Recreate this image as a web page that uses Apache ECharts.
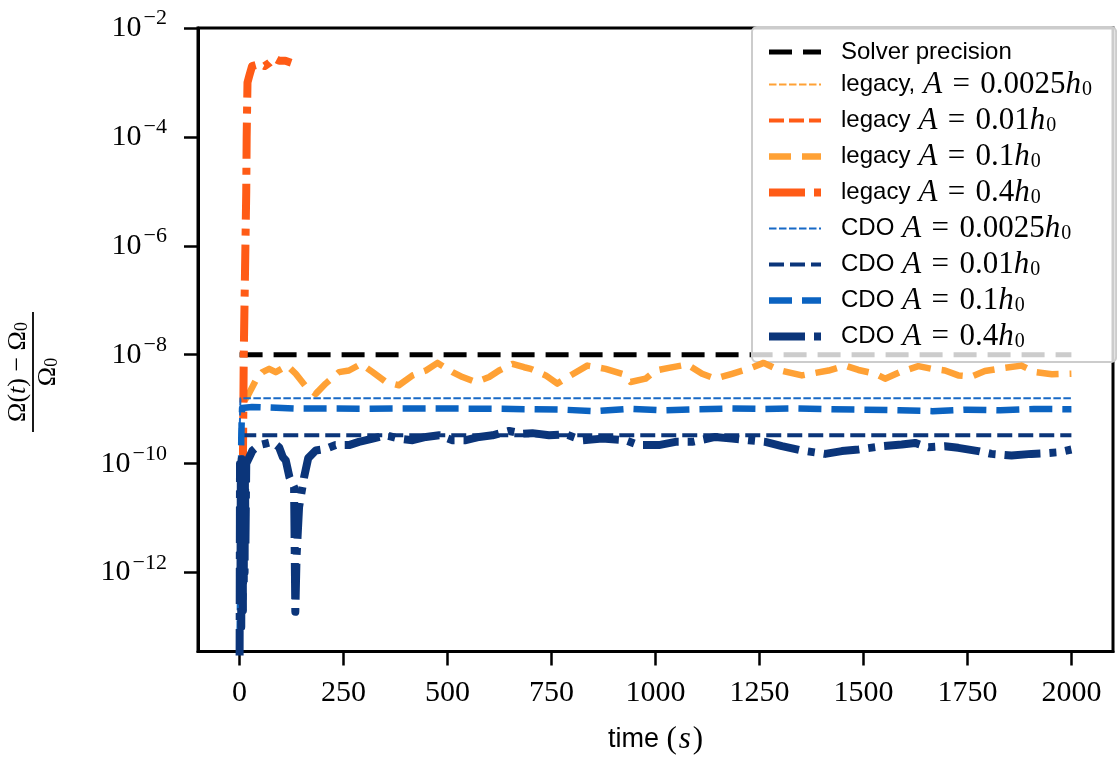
<!DOCTYPE html>
<html>
<head>
<meta charset="utf-8">
<script src="https://cdn.jsdelivr.net/npm/echarts@6.0.0/dist/echarts.min.js"></script>
<style>
html,body{margin:0;padding:0;background:#ffffff;}
#chart{width:1117px;height:760px;}
</style>
</head>
<body>
<div id="chart"></div>
<script>
// ---------- data ----------
const xTicks = [0, 250, 500, 750, 1000, 1250, 1500, 1750, 2000];
const yTicks = [1e-12, 1e-10, 1e-8, 1e-6, 1e-4, 1e-2];

const seriesNames = [
  'Solver precision',
  'legacy, A = 0.0025h0',
  'legacy A = 0.01h0',
  'legacy A = 0.1h0',
  'legacy A = 0.4h0',
  'CDO A = 0.0025h0',
  'CDO A = 0.01h0',
  'CDO A = 0.1h0',
  'CDO A = 0.4h0'
];

const solverPrecision = [[0, 1e-8], [2000, 1e-8]];

const legacy0025 = [[1, 5e-13], [3, 5e-12]];

const legacy001 = [[2, 1e-11], [4, 8e-11]];

const legacy01 = [[12,1.45e-9],[20,1.78e-9],[39,3.39e-9],[55,4.79e-9],[71,5.5e-9],[87,4.79e-9],[115,6.31e-9],[135,4.47e-9],[160,2.57e-9],[183,1.91e-9],[207,2.95e-9],[239,4.79e-9],[263,5.13e-9],[292,6.76e-9],[320,4.79e-9],[352,3.16e-9],[383,2.75e-9],[416,4.17e-9],[448,5.13e-9],[476,7.08e-9],[512,4.79e-9],[536,3.89e-9],[568,3.16e-9],[600,3.89e-9],[624,5.13e-9],[656,6.76e-9],[684,5.89e-9],[700,5.5e-9],[736,4.17e-9],[764,2.95e-9],[796,4.17e-9],[836,6.31e-9],[880,5.5e-9],[920,4.47e-9],[940,3.16e-9],[976,3.63e-9],[1000,5.13e-9],[1032,5.75e-9],[1076,6.61e-9],[1112,4.47e-9],[1144,3.63e-9],[1184,4.47e-9],[1224,5.5e-9],[1260,7.08e-9],[1296,5.25e-9],[1352,4.17e-9],[1416,5.13e-9],[1456,6.31e-9],[1488,5.25e-9],[1528,4.47e-9],[1552,3.63e-9],[1588,4.79e-9],[1632,6.17e-9],[1664,5.5e-9],[1696,5.13e-9],[1728,4.17e-9],[1760,3.98e-9],[1792,5.01e-9],[1840,5.75e-9],[1880,6.31e-9],[1913,4.79e-9],[1953,4.37e-9],[2000,4.47e-9]];

const legacy04 = [[8,1e-10],[9,1e-9],[10,1e-8],[12,1e-7],[14,1e-6],[16,1e-5],[17,1e-4],[19,1e-3],[23,1.3e-3],[30,2e-3],[40,2.1e-3],[50,2.2e-3],[60,2.0e-3],[72,2.3e-3],[83,2.8e-3],[95,2.5e-3],[110,2.5e-3],[124,2.3e-3]];

const cdo0025 = [[0,3.3e-10],[2,1.58e-9],[2000,1.58e-9]];

const cdo001 = [[4,3.31e-10],[2000,3.31e-10]];

const cdo01 = [[0,5e-14],[2,2e-12],[4,3e-10],[6,1.05e-9],[30,1.1e-9],[130,1.03e-9],[300,1.02e-9],[450,1.03e-9],[600,1.02e-9],[693,1.0e-9],[777,0.98e-9],[856,0.92e-9],[938,1.02e-9],[1017,0.955e-9],[1100,1.0e-9],[1182,1.03e-9],[1262,1.01e-9],[1342,1.03e-9],[1424,1.0e-9],[1504,0.98e-9],[1586,0.955e-9],[1666,0.92e-9],[1749,0.98e-9],[1829,0.955e-9],[1910,1.01e-9],[1985,1.0e-9],[2000,1.0e-9]];

const cdo04 = [[0,2e-14],[1,1e-10],[2,3e-13],[3,8e-11],[4,1e-13],[5,1.2e-10],[6,5e-13],[7,9e-11],[8,2e-13],[9,1e-10],[10,6e-13],[11,1.1e-10],[12,1e-12],[13,1e-10],[14,3e-12],[16,1e-10],[19,1e-10],[25,1.4e-10],[31,1.74e-10],[47,2.19e-10],[63,2.34e-10],[79,2.51e-10],[95,2.0e-10],[104,1.32e-10],[111,1.15e-10],[120,5.6e-11],[131,3.7e-11],[134,1.9e-13],[137,2e-12],[143,1.6e-11],[155,5.6e-11],[165,1.26e-10],[183,1.74e-10],[207,1.86e-10],[231,2.19e-10],[263,2.19e-10],[287,2.51e-10],[320,2.88e-10],[352,3.31e-10],[383,2.88e-10],[416,2.69e-10],[448,3.09e-10],[480,3.31e-10],[512,2.69e-10],[544,2.69e-10],[576,3.09e-10],[608,3.31e-10],[648,3.98e-10],[680,3.55e-10],[704,3.63e-10],[744,3.31e-10],[784,3.47e-10],[824,2.69e-10],[872,2.88e-10],[928,2.69e-10],[960,2.19e-10],[1008,2.19e-10],[1048,2.51e-10],[1088,2.51e-10],[1144,3.09e-10],[1184,2.88e-10],[1224,2.69e-10],[1264,2.51e-10],[1304,2.09e-10],[1352,1.74e-10],[1408,1.51e-10],[1448,1.70e-10],[1488,1.82e-10],[1544,2.09e-10],[1592,2.24e-10],[1624,2.40e-10],[1656,2.0e-10],[1696,2.09e-10],[1728,1.95e-10],[1776,1.70e-10],[1808,1.51e-10],[1856,1.41e-10],[1904,1.51e-10],[1936,1.55e-10],[1969,1.62e-10],[2000,1.82e-10]];

// ---------- styling ----------
const C_BLACK = '#000000';
const C_LORANGE = '#ffa135';
const C_RORANGE = '#ff5b16';
const C_BLUE = '#0b63c1';
const C_TBLUE = '#1769c6';
const C_NAVY = '#0b357a';

const SERIF = '"Liberation Serif", "DejaVu Serif", serif';
const SANS = '"Liberation Sans", "DejaVu Sans", sans-serif';

function mk(name, data, color, width, dash, z) {
  return {
    name: name, type: 'line', data: data, symbol: 'none', showSymbol: false,
    animation: false, z: z, clip: true,
    lineStyle: { color: color, width: width, type: dash, cap: 'butt', join: 'round' },
    itemStyle: { color: color },
    emphasis: { disabled: true }
  };
}

const legendRich = {
  sf: { fontFamily: SANS, fontSize: 24, lineHeight: 30, color: '#000', padding: [0, 0, 0, 15] },
  ia: { fontFamily: SERIF, fontStyle: 'italic', fontSize: 31, lineHeight: 30, color: '#000', padding: [0, 0, 0, 8] },
  it: { fontFamily: SERIF, fontStyle: 'italic', fontSize: 31, lineHeight: 30, color: '#000' },
  rm: { fontFamily: SERIF, fontSize: 31, lineHeight: 30, color: '#000' },
  sub: { fontFamily: SERIF, fontSize: 20, lineHeight: 20, padding: [11, 0, 0, 1], color: '#000' }
};
const EQ = '\u2004=\u2004';
const legendLabels = {
  'Solver precision': '{sf|Solver precision}',
  'legacy, A = 0.0025h0': '{sf|legacy,}{ia|A}{rm|' + EQ + '0.0025}{it|h}{sub|0}',
  'legacy A = 0.01h0': '{sf|legacy}{ia|A}{rm|' + EQ + '0.01}{it|h}{sub|0}',
  'legacy A = 0.1h0': '{sf|legacy}{ia|A}{rm|' + EQ + '0.1}{it|h}{sub|0}',
  'legacy A = 0.4h0': '{sf|legacy}{ia|A}{rm|' + EQ + '0.4}{it|h}{sub|0}',
  'CDO A = 0.0025h0': '{sf|CDO}{ia|A}{rm|' + EQ + '0.0025}{it|h}{sub|0}',
  'CDO A = 0.01h0': '{sf|CDO}{ia|A}{rm|' + EQ + '0.01}{it|h}{sub|0}',
  'CDO A = 0.1h0': '{sf|CDO}{ia|A}{rm|' + EQ + '0.1}{it|h}{sub|0}',
  'CDO A = 0.4h0': '{sf|CDO}{ia|A}{rm|' + EQ + '0.4}{it|h}{sub|0}'
};

const chart = echarts.init(document.getElementById('chart'), null, { renderer: 'canvas' });

const option = {
  backgroundColor: '#ffffff',
  animation: false,
  grid: {
    left: 198, right: 4, top: 28, bottom: 108,
    show: true, borderColor: '#000', borderWidth: 3, backgroundColor: 'transparent'
  },
  xAxis: {
    type: 'value', min: -100, max: 2100,
    splitLine: { show: false },
    axisLine: { show: true, onZero: false, lineStyle: { color: '#000', width: 3 } },
    axisTick: { show: true, customValues: xTicks, length: 14, lineStyle: { color: '#000', width: 2.5 } },
    axisLabel: {
      customValues: xTicks, margin: 27, color: '#000',
      fontFamily: SERIF, fontSize: 30, lineHeight: 30,
      formatter: function (v) { return String(v); }
    },
    name: '{sf|time }{rm|(}{it|s}{rm|)}',
    nameLocation: 'middle', nameGap: 72,
    nameTextStyle: {
      rich: {
        sf: { fontFamily: SANS, fontSize: 27, lineHeight: 32, color: '#000' },
        rm: { fontFamily: SERIF, fontSize: 31, lineHeight: 32, color: '#000' },
        it: { fontFamily: SERIF, fontStyle: 'italic', fontSize: 31, lineHeight: 32, color: '#000', padding: [0, 2, 0, 2] }
      }
    }
  },
  yAxis: {
    type: 'log', logBase: 10,
    min: Math.pow(10, -13.45), max: 1e-2,
    splitLine: { show: false },
    minorTick: { show: false },
    axisLine: { show: true, onZero: false, lineStyle: { color: '#000', width: 3 } },
    axisTick: { show: true, customValues: yTicks, length: 14, lineStyle: { color: '#000', width: 2.5 } },
    axisLabel: {
      customValues: yTicks, margin: 31,
      formatter: function (v) {
        const e = Math.round(Math.log10(v));
        return '{b|10}{s|\u2212' + (-e) + '}';
      },
      rich: {
        b: { fontFamily: SERIF, fontSize: 30, lineHeight: 30, color: '#000' },
        s: { fontFamily: SERIF, fontSize: 22, lineHeight: 22, padding: [0, 0, 19, 2], color: '#000' }
      }
    }
  },
  legend: {
    orient: 'vertical', left: 752, top: 27,
    itemWidth: 52, itemHeight: 14, itemGap: 5,
    padding: [13, 24, 10, 13],
    backgroundColor: 'rgba(255,255,255,0.8)',
    borderColor: '#cccccc', borderWidth: 2, borderRadius: 5,
    selectedMode: false,
    lineStyle: { width: 'inherit' },
    itemStyle: { color: 'rgba(0,0,0,0)', borderWidth: 0, opacity: 0 },
    data: seriesNames,
    formatter: function (name) { return legendLabels[name]; },
    textStyle: { rich: legendRich }
  },
  graphic: [{
    type: 'group', x: 33, y: 372, rotation: Math.PI / 2, silent: true,
    children: [
      {
        type: 'text', x: 0, y: -15,
        style: {
          text: '{r|\u03A9(}{i|t}{r|) \u2212 \u03A9}{s|0}',
          textAlign: 'center', textVerticalAlign: 'middle', align: 'center', verticalAlign: 'middle',
          rich: {
            r: { fontFamily: SERIF, fontSize: 26, lineHeight: 26, fill: '#000', color: '#000' },
            i: { fontFamily: SERIF, fontStyle: 'italic', fontSize: 26, lineHeight: 26, fill: '#000', color: '#000' },
            s: { fontFamily: SERIF, fontSize: 18, lineHeight: 18, padding: [9, 0, 0, 0], fill: '#000', color: '#000' }
          }
        }
      },
      {
        type: 'line', shape: { x1: -60, y1: 0, x2: 60, y2: 0 },
        style: { stroke: '#000', lineWidth: 1.8 }
      },
      {
        type: 'text', x: 0, y: 15,
        style: {
          text: '{r|\u03A9}{s|0}',
          textAlign: 'center', textVerticalAlign: 'middle', align: 'center', verticalAlign: 'middle',
          rich: {
            r: { fontFamily: SERIF, fontSize: 26, lineHeight: 26, fill: '#000', color: '#000' },
            s: { fontFamily: SERIF, fontSize: 18, lineHeight: 18, padding: [9, 0, 0, 0], fill: '#000', color: '#000' }
          }
        }
      }
    ]
  }],
  series: [
    mk(seriesNames[0], solverPrecision, C_BLACK, 5, [23, 11], 2),
    mk(seriesNames[1], legacy0025, C_LORANGE, 2, [7.5, 2.5], 3),
    mk(seriesNames[2], legacy001, C_RORANGE, 4, [15, 5], 4),
    mk(seriesNames[3], legacy01, C_LORANGE, 6.5, [22, 11], 5),
    mk(seriesNames[4], legacy04, C_RORANGE, 8, [36, 9, 7, 9], 6),
    mk(seriesNames[5], cdo0025, C_TBLUE, 2, [7.5, 2.5], 7),
    mk(seriesNames[6], cdo001, C_NAVY, 4, [15, 6], 8),
    mk(seriesNames[7], cdo01, C_BLUE, 6.5, [23, 10], 9),
    mk(seriesNames[8], cdo04, C_NAVY, 8, [36, 9, 7, 9], 10)
  ]
};

chart.setOption(option);
</script>
</body>
</html>
